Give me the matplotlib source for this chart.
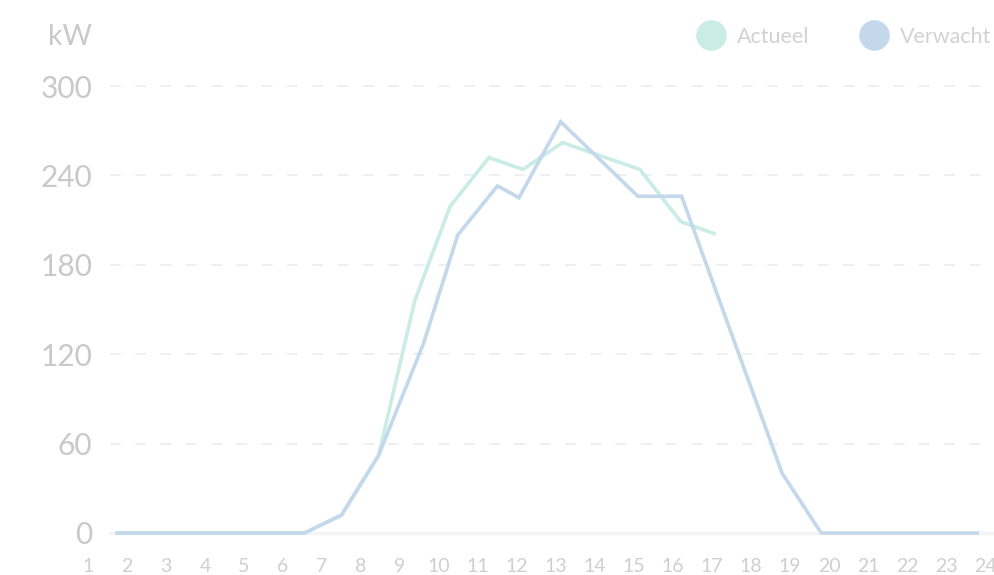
import matplotlib
matplotlib.use("Agg")
import matplotlib.pyplot as plt
from matplotlib.lines import Line2D

plt.rcParams['font.family'] = ['Lato', 'DejaVu Sans']

# ---- data ----
hours = list(range(1, 25))
y_ticks = [0, 60, 120, 180, 240, 300]

verwacht_x = [1.75, 6.55, 7.5, 8.45, 9.6, 10.48, 11.5, 12.05, 13.12, 15.1, 16.22, 18.8, 19.8, 23.8]
verwacht_y = [0, 0, 12, 52, 127, 200, 233, 225, 276, 226, 226, 40, 0, 0]

actueel_x = [1.75, 6.55, 7.5, 8.45, 9.38, 10.28, 11.28, 12.15, 13.17, 15.15, 16.2, 17.05]
actueel_y = [0, 0, 12, 52, 156, 219, 252, 244, 262, 244, 209, 201]

unit_label = "kW"
series_names = ["Actueel", "Verwacht"]

# ---- style ----
c_act = "#c9ece4"
c_ver = "#c4d8ec"
c_text = "#c9c9c9"
c_grid = "#eeeeee"

W, H = 994, 575
fig = plt.figure(figsize=(W / 100, H / 100), dpi=100)
ax_left, ax_right = 88, 994
ax_top, ax_bottom = 70, 545
ax = fig.add_axes([ax_left / W, 1 - ax_bottom / H, (ax_right - ax_left) / W, (ax_bottom - ax_top) / H])

px_per_hour = 39.0
x0 = 1.0
x1 = x0 + (ax_right - ax_left) / px_per_hour
ax.set_xlim(x0, x1)
px_per_unit = 447 / 300
ymin = -(ax_bottom - 533) / px_per_unit
ymax = 300 + (86 - ax_top) / px_per_unit
ax.set_ylim(ymin, ymax)

for s in ax.spines.values():
    s.set_visible(False)

# gridlines start at ~110px
gx = (110 - ax_left) / (ax_right - ax_left)
for v in y_ticks:
    if v == 0:
        ax.axhline(v, xmin=gx, xmax=1, color="#f4f4f4", lw=2.5, zorder=0)
    else:
        ax.axhline(v, xmin=gx, xmax=1, color=c_grid, lw=1.3, ls=(0, (6, 8)), zorder=0)

ax.plot(actueel_x, actueel_y, color=c_act, lw=2.6, solid_joinstyle='miter', zorder=2, label=series_names[0])
ax.plot(verwacht_x, verwacht_y, color=c_ver, lw=2.6, solid_joinstyle='miter', zorder=3, label=series_names[1])

ax.set_xticks(hours)
ax.set_xticklabels([str(h) for h in hours])
ax.set_yticks(y_ticks)
ax.set_yticklabels([str(v) for v in y_ticks])
ax.tick_params(axis='x', length=0, pad=9, labelsize=14, labelcolor="#cfcfcf")
ax.tick_params(axis='y', length=0, pad=-3, labelsize=21.5, labelcolor=c_text)

fig.text(92 / W, 1 - 37 / H, unit_label, ha='right', va='center', fontsize=20.5, color=c_text)

handles = [
    Line2D([], [], ls='none', marker='o', markersize=22, markerfacecolor=c_act, markeredgecolor='none'),
    Line2D([], [], ls='none', marker='o', markersize=22, markerfacecolor=c_ver, markeredgecolor='none'),
]
leg = fig.legend(handles, series_names, loc='center left', bbox_to_anchor=(696 / W, 1 - 37 / H),
                 bbox_transform=fig.transFigure, ncol=2, frameon=False, fontsize=15.5,
                 handlelength=1.4, handletextpad=0.5, columnspacing=2.3, borderpad=0, borderaxespad=0)
for t in leg.get_texts():
    t.set_color("#d2d2d2")

fig.savefig("out.png", dpi=100)
